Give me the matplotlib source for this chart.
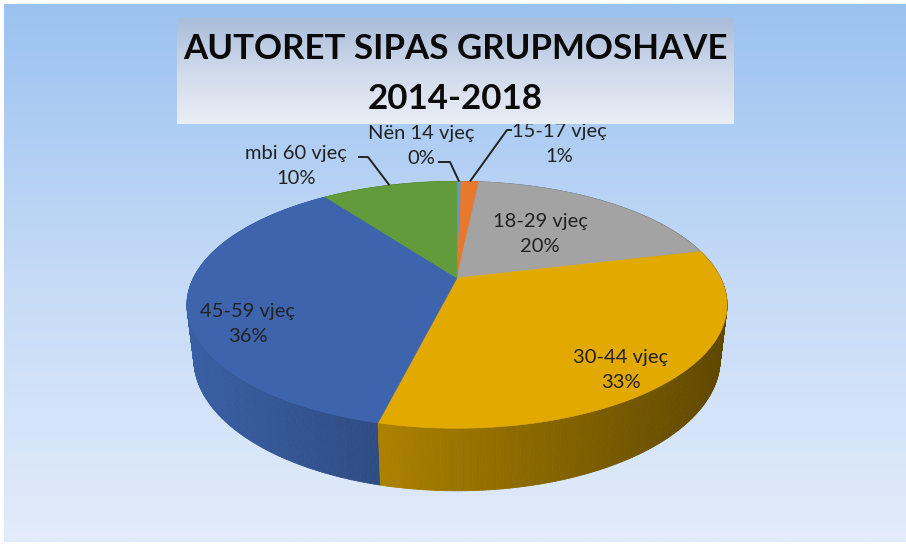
import numpy as np
import matplotlib
matplotlib.use("Agg")
import matplotlib.pyplot as plt
from matplotlib.colors import to_rgb, LinearSegmentedColormap
from matplotlib.collections import PolyCollection

# data
categories = ["Nën 14 vjeç", "15-17 vjeç", "18-29 vjeç", "30-44 vjeç", "45-59 vjeç", "mbi 60 vjeç"]
values = [0.3, 1.3, 19.6, 32.6, 36.2, 10.0]
colors = ["#5B9BD5", "#E8792C", "#A3A3A3", "#E2AA00", "#3D64AD", "#619B3B"]
title_lines = ["AUTORET SIPAS GRUPMOSHAVE", "2014-2018"]

# label placement (pixel coords, y down)
label_pos = [(421, 133), (559, 131), (540, 221), (621, 357), (248, 312), (296, 153)]
# elbow points of leader lines for the small slices
leaders = {0: [(438, 162), (450, 162)], 1: [(512, 130), (507, 130)], 5: [(358, 157), (368, 157)]}

W, H = 906, 546
fig = plt.figure(figsize=(W / 100, H / 100), dpi=100)
ax = fig.add_axes([0, 0, 1, 1])
ax.set_xlim(0, W)
ax.set_ylim(H, 0)
ax.axis("off")

# background gradient
bg = LinearSegmentedColormap.from_list("bg", ["#9BC2F1", "#C4DAF6", "#E2ECFA"])
ax.imshow(np.linspace(0, 1, 256).reshape(-1, 1), cmap=bg, aspect="auto",
          extent=[4, W, H - 4, 4], zorder=0)

# simple perspective projection of a tilted disc
cx, cy = 457, 278
tilt = np.radians(26.5)
s, c = np.sin(tilt), np.cos(tilt)
dist = 4.12
focal = 1086
depth_h = 0.23


def project(theta, y=0.0):
    X = np.cos(theta)
    Z = np.sin(theta)
    d = dist - y * s + Z * c
    v = y * c + Z * s
    return cx + focal * X / d, cy - focal * v / d


total = sum(values)
cum = np.concatenate([[0], np.cumsum(values)])
bounds = np.radians(90 - 360 * cum / total)

# side of the pie
quads, qcols, qkeys = [], [], []
for i, col in enumerate(colors):
    th = np.linspace(bounds[i], bounds[i + 1], max(3, int(values[i] * 6)))
    base = np.array(to_rgb(col))
    for a, b in zip(th[:-1], th[1:]):
        x1, y1 = project(a)
        x2, y2 = project(b)
        x3, y3 = project(b, -depth_h)
        x4, y4 = project(a, -depth_h)
        xm = (x1 + x2) / 2
        f = np.clip(0.95 - 0.00098 * (xm - 187), 0.35, 1)
        quads.append([(x1, y1), (x2, y2), (x3, y3), (x4, y4)])
        qcols.append(base * f)
        qkeys.append(np.sin((a + b) / 2))
order = np.argsort(qkeys)[::-1]
side = PolyCollection([quads[k] for k in order], facecolors=[qcols[k] for k in order],
                      edgecolors=[qcols[k] for k in order], linewidths=0.6, zorder=2)
ax.add_collection(side)

# top face
for i, col in enumerate(colors):
    th = np.linspace(bounds[i], bounds[i + 1], max(3, int(values[i] * 6)))
    px, py = project(th)
    ax.fill(np.r_[cx, px], np.r_[cy, py], color=col, ec=col, lw=0.4, zorder=3)

# labels
pcts = [v / total * 100 for v in values]
for i, (cat, p) in enumerate(zip(categories, pcts)):
    x, y = label_pos[i]
    ax.text(x, y, cat, ha="center", va="center", fontsize=14.5, family="Lato",
            color="#222222", zorder=4)
    ax.text(x, y + 25, "%.0f%%" % p, ha="center", va="center", fontsize=14.5,
            family="Lato", color="#222222", zorder=4)
    if i in leaders:
        mid = (bounds[i] + bounds[i + 1]) / 2
        ex, ey = project(mid)
        pts = leaders[i] + [(ex, ey)]
        ax.plot([q[0] for q in pts], [q[1] for q in pts], color="#222222",
                lw=1.4, zorder=4, solid_capstyle="butt")

# title box
tb = LinearSegmentedColormap.from_list("tb", ["#A9BCDA", "#D0DAEB", "#EAEEF5"])
ax.imshow(np.linspace(0, 1, 256).reshape(-1, 1), cmap=tb, aspect="auto",
          extent=[177, 734, 124, 18], zorder=5)
t1 = ax.text(455, 49, title_lines[0], ha="center", va="center", fontsize=30,
             fontweight="bold", family="Lato", color="#0A0A0A", zorder=6)
t2 = ax.text(455, 99, title_lines[1], ha="center", va="center", fontsize=30,
             fontweight="bold", family="Lato", color="#0A0A0A", zorder=6)

# shrink the title so the first line spans the same width as in the original
fig.canvas.draw()
wid = t1.get_window_extent().width
size = 30 * 544 / wid
t1.set_fontsize(size)
t2.set_fontsize(size)

fig.savefig("out.png", dpi=100, facecolor="white")
